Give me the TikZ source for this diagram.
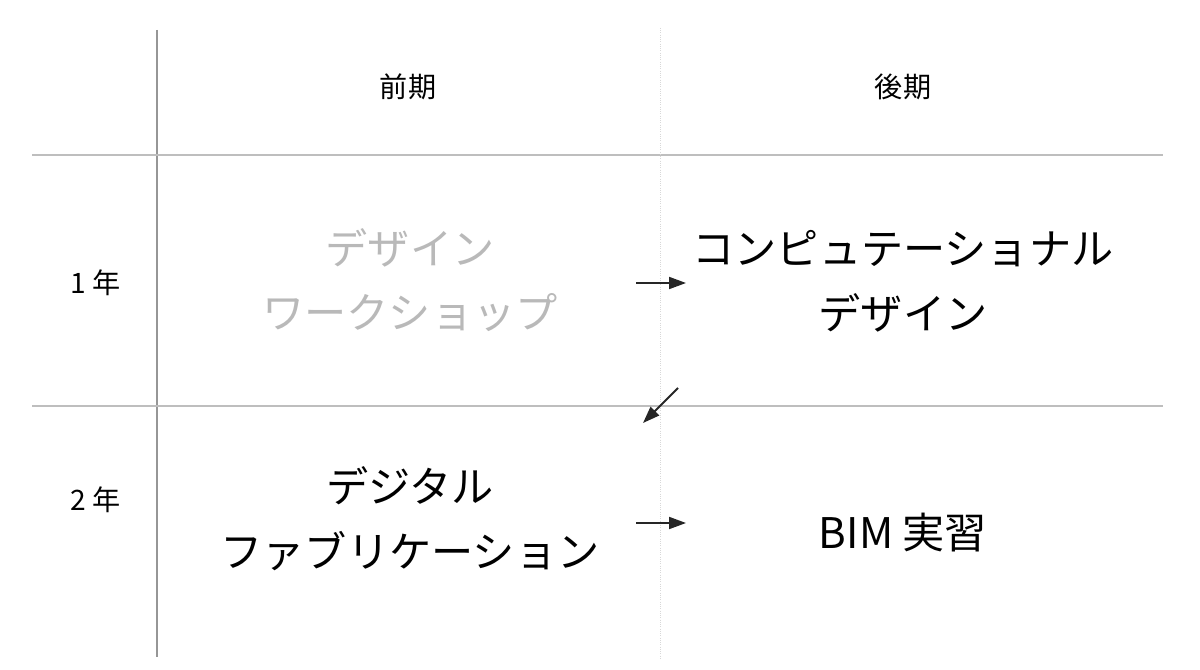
\documentclass[tikz,border=0pt]{standalone}
\usepackage{fontspec}
\setmainfont{Noto Sans CJK JP}
\usepackage{tikz}
\usetikzlibrary{calc,positioning,arrows.meta}
\definecolor{rulegray}{RGB}{190,190,190}
\definecolor{axisgray}{RGB}{150,150,150}
\definecolor{fadedtext}{RGB}{185,185,185}

\begin{document}
\begin{tikzpicture}[x=0.025cm, y=-0.025cm,
  head/.style={font=\fontsize{20}{24}\selectfont},
  year/.style={font=\fontsize{20}{24}\selectfont},
  course/.style={font=\fontsize{30}{46}\selectfont, align=center},
  flow/.style={-{Triangle[length=12pt,width=8.5pt]}, line width=1.3pt, black!85}]
\useasboundingbox (0,0) rectangle (1200,669);
% grid
\coordinate (vtop) at (157,30);
\coordinate (vbot) at (157,657);
\coordinate (mtop) at (660,28);
\coordinate (mbot) at (660,660);
\coordinate (h1l) at (32,155);
\coordinate (h1r) at (1163,155);
\coordinate (h2l) at (32,406);
\coordinate (h2r) at (1163,406);
\draw[axisgray, line width=1pt] (vtop) -- (vbot);
\draw[rulegray, line width=1.3pt] (h1l) -- (h1r);
\draw[rulegray, line width=1.3pt] (h2l) -- (h2r);
\draw[rulegray!60, line width=0.6pt, densely dotted] (mtop) -- (mbot);

% headers
\node[head] (first) at (408,87) {前期};
\node[head] (second) at (903,87) {後期};
\node[year] (y1) at (96,283) {1 年};
\node[year] (y2) at (96,500) {2 年};

% courses
\node[course, text=fadedtext] (dw) at (410,280) {デザイン\\ワークショップ};
\node[course] (cd) at (903,281) {コンピュテーショナル\\デザイン};
\node[course] (df) at (410,519) {デジタル\\ファブリケーション};
\node[course] (bim) at (903,533) {BIM 実習};

% arrows
\coordinate (a1s) at (636,283);
\coordinate (a1e) at (686,283);
\coordinate (a2s) at (678,388);
\coordinate (a2e) at (643,423);
\coordinate (a3s) at (636,523);
\coordinate (a3e) at (686,523);
\draw[flow] (a1s) -- (a1e);
\draw[flow] (a2s) -- (a2e);
\draw[flow] (a3s) -- (a3e);
\end{tikzpicture}
\end{document}
